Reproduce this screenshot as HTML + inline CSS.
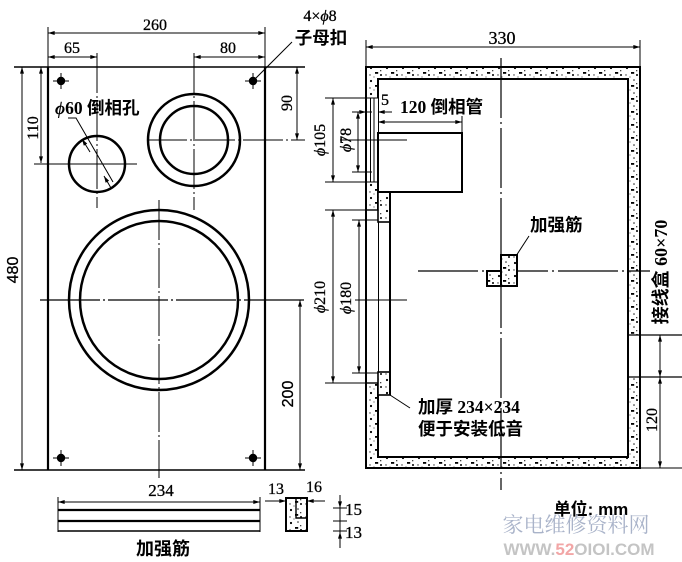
<!DOCTYPE html>
<html><head><meta charset="utf-8"><style>
html,body{margin:0;padding:0;background:#fff;}
svg{display:block;}
text{font-family:"Liberation Serif","Noto Serif CJK SC","Noto Sans CJK SC",serif;fill:#000;stroke:#000;stroke-width:0.3;}
.cn{font-family:"Liberation Serif","Noto Sans CJK SC",sans-serif;font-weight:bold;stroke-width:0;}
.sans{font-family:"Liberation Sans",sans-serif;}
</style></head><body>
<svg width="682" height="562" viewBox="0 0 682 562" xmlns="http://www.w3.org/2000/svg">
<defs>
<marker id="a" viewBox="0 0 10 6" refX="10" refY="3" markerWidth="8" markerHeight="4" markerUnits="userSpaceOnUse" orient="auto-start-reverse"><path d="M0,0 L10,3 L0,6 z" fill="#000"/></marker>
<pattern id="h" width="16" height="13" patternUnits="userSpaceOnUse">
<rect width="16" height="13" fill="#fff"/>
<circle cx="3" cy="3" r="1.1" fill="#000"/>
<circle cx="10" cy="2" r="0.8" fill="#222"/>
<rect x="7" y="7" width="3.2" height="1.8" fill="#000"/>
<circle cx="13" cy="10" r="1" fill="#000"/>
<circle cx="2" cy="10" r="0.7" fill="#333"/>
<rect x="12" y="5" width="1.3" height="1.3" fill="#444"/>
<circle cx="6" cy="12" r="0.6" fill="#555"/>
</pattern>
</defs>

<g stroke="#000" fill="none">
<!-- ===== FRONT VIEW ===== -->
<line x1="14" y1="67" x2="305" y2="67" stroke-width="1.6"/>
<line x1="14" y1="470" x2="305" y2="470" stroke-width="1.6"/>
<line x1="48" y1="67" x2="48" y2="470" stroke-width="2.2"/>
<line x1="265" y1="67" x2="265" y2="470" stroke-width="2.2"/>
<line x1="48" y1="27" x2="48" y2="67" stroke-width="1"/>
<line x1="265" y1="27" x2="265" y2="67" stroke-width="1"/>
<line x1="48" y1="33" x2="265" y2="33" stroke-width="1" marker-start="url(#a)" marker-end="url(#a)"/>
<line x1="48" y1="57" x2="97" y2="57" stroke-width="1" marker-start="url(#a)" marker-end="url(#a)"/>
<line x1="194" y1="57" x2="265" y2="57" stroke-width="1" marker-start="url(#a)" marker-end="url(#a)"/>
<line x1="97" y1="53" x2="97" y2="208" stroke-width="1" stroke-dasharray="40 3 2 3"/>
<line x1="194" y1="53" x2="194" y2="210" stroke-width="1" stroke-dasharray="40 3 2 3"/>
<!-- 480 / 110 -->
<line x1="22" y1="67" x2="22" y2="470" stroke-width="1" marker-start="url(#a)" marker-end="url(#a)"/>
<line x1="41" y1="67" x2="41" y2="163" stroke-width="1" marker-start="url(#a)" marker-end="url(#a)"/>
<line x1="34" y1="164" x2="137" y2="164" stroke-width="1"/>
<!-- small hole -->
<circle cx="97" cy="164" r="28" stroke-width="2.5"/>
<polyline points="68,118 76,118 113,182" stroke-width="1"/>
<line x1="90" y1="152" x2="82" y2="139" stroke-width="1" marker-end="url(#a)"/>
<line x1="104" y1="176" x2="111" y2="188" stroke-width="1" marker-start="url(#a)"/>
<!-- top-right tweeter hole -->
<circle cx="194" cy="140" r="46" stroke-width="2.5"/>
<circle cx="194" cy="140" r="34" stroke-width="2.5"/>
<line x1="147" y1="140" x2="305" y2="140" stroke-width="1" stroke-dasharray="40 3 2 3"/>
<line x1="297" y1="67" x2="297" y2="140" stroke-width="1" marker-start="url(#a)" marker-end="url(#a)"/>
<!-- big hole -->
<circle cx="159" cy="300" r="90" stroke-width="2.5"/>
<circle cx="159" cy="300" r="79" stroke-width="2.5"/>
<line x1="40" y1="300" x2="305" y2="300" stroke-width="1.2" stroke-dasharray="60 3 2 3"/>
<line x1="159" y1="200" x2="159" y2="478" stroke-width="1" stroke-dasharray="40 3 2 3"/>
<line x1="300" y1="300" x2="300" y2="470" stroke-width="1" marker-start="url(#a)" marker-end="url(#a)"/>
<!-- mounting holes -->
<g stroke-width="1">
<line x1="53" y1="81" x2="69" y2="81"/><line x1="61" y1="73" x2="61" y2="89"/>
<line x1="245" y1="81" x2="261" y2="81"/><line x1="253" y1="73" x2="253" y2="89"/>
<line x1="53" y1="458" x2="69" y2="458"/><line x1="61" y1="450" x2="61" y2="466"/>
<line x1="245" y1="458" x2="261" y2="458"/><line x1="253" y1="450" x2="253" y2="466"/>
</g>
<g fill="#000" stroke="none">
<circle cx="61" cy="81" r="4.2"/><circle cx="253" cy="81" r="4.2"/>
<circle cx="61" cy="458" r="4.2"/><circle cx="253" cy="458" r="4.2"/>
</g>
<line x1="253" y1="81" x2="292" y2="42" stroke-width="1"/>

<!-- ===== RIB (bottom) ===== -->
<line x1="58" y1="497" x2="58" y2="532" stroke-width="1"/>
<line x1="260" y1="497" x2="260" y2="532" stroke-width="1"/>
<line x1="58" y1="502" x2="260" y2="502" stroke-width="1" marker-start="url(#a)" marker-end="url(#a)"/>
<line x1="58" y1="510" x2="260" y2="510" stroke-width="2.2"/>
<line x1="58" y1="521" x2="260" y2="521" stroke-width="2.2"/>
<line x1="58" y1="531" x2="260" y2="531" stroke-width="1.4"/>
<rect x="286" y="498" width="21" height="33" stroke-width="2" fill="url(#h)"/>
<polyline points="296,498 296,518 307,518" stroke-width="1.4"/>
<line x1="265" y1="501" x2="286" y2="501" stroke-width="1" marker-end="url(#a)"/>
<line x1="325" y1="501" x2="307" y2="501" stroke-width="1" marker-end="url(#a)"/>
<line x1="340" y1="495" x2="340" y2="548" stroke-width="1"/>
<line x1="340" y1="497" x2="340" y2="508" stroke-width="1" marker-end="url(#a)"/>
<line x1="340" y1="548" x2="340" y2="532" stroke-width="1" marker-end="url(#a)"/>
<line x1="333" y1="508" x2="347" y2="508" stroke-width="1"/>
<line x1="333" y1="521" x2="347" y2="521" stroke-width="1"/>
<line x1="333" y1="531" x2="347" y2="531" stroke-width="1"/>

<!-- ===== SIDE VIEW ===== -->
<path d="M366,67 H640 V468 H366 Z M378,79 V457 H628 V79 Z" fill="url(#h)" fill-rule="evenodd" stroke="none"/>
<rect x="366" y="67" width="274" height="401" stroke-width="2"/>
<rect x="378" y="79" width="250" height="378" stroke-width="2"/>
<!-- tube hole in baffle -->
<rect x="367" y="98" width="11" height="84" fill="#fff" stroke="none"/>
<line x1="366" y1="98" x2="378" y2="98" stroke-width="1"/>
<line x1="366" y1="182" x2="378" y2="182" stroke-width="1"/>
<line x1="370.5" y1="98" x2="370.5" y2="182" stroke-width="1"/>
<line x1="374" y1="98" x2="374" y2="182" stroke-width="1"/>
<!-- woofer hole -->
<rect x="367" y="210" width="11" height="173" fill="#fff" stroke="none"/>
<line x1="366" y1="210" x2="378" y2="210" stroke-width="1.4"/>
<line x1="366" y1="383" x2="378" y2="383" stroke-width="1.4"/>
<!-- thickening plate -->
<rect x="378" y="192" width="12" height="30" fill="url(#h)" stroke-width="1.6"/>
<rect x="378" y="372" width="12" height="23" fill="url(#h)" stroke-width="1.6"/>
<line x1="390" y1="192" x2="390" y2="395" stroke-width="2"/>
<line x1="390" y1="395" x2="410" y2="408" stroke-width="1"/>
<!-- tube -->
<rect x="378" y="133" width="84" height="59" fill="#fff" stroke-width="2"/>
<line x1="340" y1="140" x2="407" y2="140" stroke-width="1"/>
<line x1="462" y1="116" x2="462" y2="133" stroke-width="1"/>
<line x1="378" y1="122" x2="462" y2="122" stroke-width="1" marker-start="url(#a)" marker-end="url(#a)"/>
<line x1="352" y1="112" x2="366" y2="112" stroke-width="1" marker-end="url(#a)"/>
<line x1="392" y1="112" x2="378" y2="112" stroke-width="1" marker-end="url(#a)"/>
<!-- phi105 / phi78 -->
<line x1="325" y1="98" x2="366" y2="98" stroke-width="1"/>
<line x1="325" y1="182" x2="366" y2="182" stroke-width="1"/>
<line x1="333" y1="98" x2="333" y2="182" stroke-width="1" marker-start="url(#a)" marker-end="url(#a)"/>
<line x1="352" y1="112" x2="372" y2="112" stroke-width="1"/>
<line x1="352" y1="172" x2="372" y2="172" stroke-width="1"/>
<line x1="358" y1="112" x2="358" y2="172" stroke-width="1" marker-start="url(#a)" marker-end="url(#a)"/>
<!-- phi210 / phi180 -->
<line x1="325" y1="210" x2="366" y2="210" stroke-width="1"/>
<line x1="325" y1="383" x2="366" y2="383" stroke-width="1"/>
<line x1="333" y1="210" x2="333" y2="383" stroke-width="1" marker-start="url(#a)" marker-end="url(#a)"/>
<line x1="352" y1="220" x2="378" y2="220" stroke-width="1"/>
<line x1="352" y1="373" x2="378" y2="373" stroke-width="1"/>
<line x1="359" y1="220" x2="359" y2="373" stroke-width="1" marker-start="url(#a)" marker-end="url(#a)"/>
<line x1="355" y1="300" x2="407" y2="300" stroke-width="1"/>
<!-- 330 -->
<line x1="366" y1="40" x2="366" y2="67" stroke-width="1"/>
<line x1="640" y1="40" x2="640" y2="67" stroke-width="1"/>
<line x1="366" y1="47" x2="640" y2="47" stroke-width="1" marker-start="url(#a)" marker-end="url(#a)"/>
<line x1="501" y1="58" x2="501" y2="490" stroke-width="1.2" stroke-dasharray="60 4 2 4"/>
<line x1="418" y1="271" x2="650" y2="271" stroke-width="1.2" stroke-dasharray="60 4 2 4"/>
<!-- terminal box cutout -->
<rect x="629" y="335" width="10" height="42" fill="#fff" stroke="none"/>
<line x1="628" y1="335" x2="683" y2="335" stroke-width="1.2"/>
<line x1="628" y1="377" x2="683" y2="377" stroke-width="1.2"/>
<line x1="640" y1="468" x2="683" y2="468" stroke-width="1"/>
<line x1="640" y1="335" x2="640" y2="377" stroke-width="1.6"/>
<line x1="660" y1="335" x2="660" y2="377" stroke-width="1" marker-start="url(#a)" marker-end="url(#a)"/>
<line x1="660" y1="377" x2="660" y2="468" stroke-width="1" marker-start="url(#a)" marker-end="url(#a)"/>
<!-- rib on side view -->
<rect x="487" y="271" width="14" height="15" fill="url(#h)" stroke-width="2"/>
<rect x="501" y="255" width="16" height="31" fill="url(#h)" stroke-width="2"/>
<line x1="516" y1="256" x2="529" y2="236" stroke-width="1"/>
</g>

<!-- ===== TEXT ===== -->
<g font-size="16">
<text x="155" y="30" text-anchor="middle">260</text>
<text x="72" y="53" text-anchor="middle">65</text>
<text x="228" y="53" text-anchor="middle">80</text>
<text x="320" y="21" text-anchor="middle">4×<tspan font-style="italic">ϕ</tspan>8</text>
<text class="cn" x="321" y="44" text-anchor="middle" font-size="17.5">子母扣</text>
<text class="cn" x="55" y="114" font-size="17.5"><tspan font-style="italic">ϕ</tspan>60 倒相孔</text>
<text transform="translate(38,128) rotate(-90)" text-anchor="middle">110</text>
<text transform="translate(292,103) rotate(-90)" text-anchor="middle">90</text>
<text class="sans" transform="translate(18,270) rotate(-90)" text-anchor="middle">480</text>
<text class="sans" transform="translate(293,394) rotate(-90)" text-anchor="middle">200</text>
<text x="161" y="496" text-anchor="middle" font-size="17">234</text>
<text x="276" y="494" text-anchor="middle">13</text>
<text x="314" y="492" text-anchor="middle">16</text>
<text x="345" y="515" font-size="17">15</text>
<text x="345" y="538" font-size="17">13</text>
<text class="cn" x="163" y="555" text-anchor="middle" font-size="18">加强筋</text>
<text x="502" y="44" text-anchor="middle" font-size="18">330</text>
<text x="381" y="105">5</text>
<text class="cn" x="400" y="113" font-size="17.5">120 倒相管</text>
<text transform="translate(325,140) rotate(-90)" text-anchor="middle"><tspan font-style="italic">ϕ</tspan>105</text>
<text transform="translate(351,140) rotate(-90)" text-anchor="middle"><tspan font-style="italic">ϕ</tspan>78</text>
<text transform="translate(325,297) rotate(-90)" text-anchor="middle"><tspan font-style="italic">ϕ</tspan>210</text>
<text transform="translate(351,298) rotate(-90)" text-anchor="middle"><tspan font-style="italic">ϕ</tspan>180</text>
<text class="cn" x="530" y="231" font-size="17.5">加强筋</text>
<text class="cn" x="418" y="413" font-size="17.5">加厚 234×234</text>
<text class="cn" x="418" y="435" font-size="17.5">便于安装低音</text>
<text class="cn" transform="translate(667,272) rotate(-90)" text-anchor="middle" font-size="18">接线盒 60×70</text>
<text transform="translate(657,420) rotate(-90)" text-anchor="middle">120</text>
</g>
<text x="591" y="515" text-anchor="middle" style="font-family:'Liberation Sans','Noto Sans CJK SC',sans-serif;font-size:17px;font-weight:bold;stroke-width:0">单位: mm</text>
<text x="576" y="532" text-anchor="middle" style="font-family:'Noto Serif CJK SC',serif;font-size:21px;fill:#a9b3c9;stroke:none">家电维修资料网</text>
<text x="579" y="555" text-anchor="middle" style="font-family:'Liberation Sans',sans-serif;font-size:17px;font-weight:bold;fill:#c4c4c4;stroke:none">WWW.<tspan style="fill:#f2a6a6">52</tspan>OIOI.COM</text>
</svg>
</body></html>
